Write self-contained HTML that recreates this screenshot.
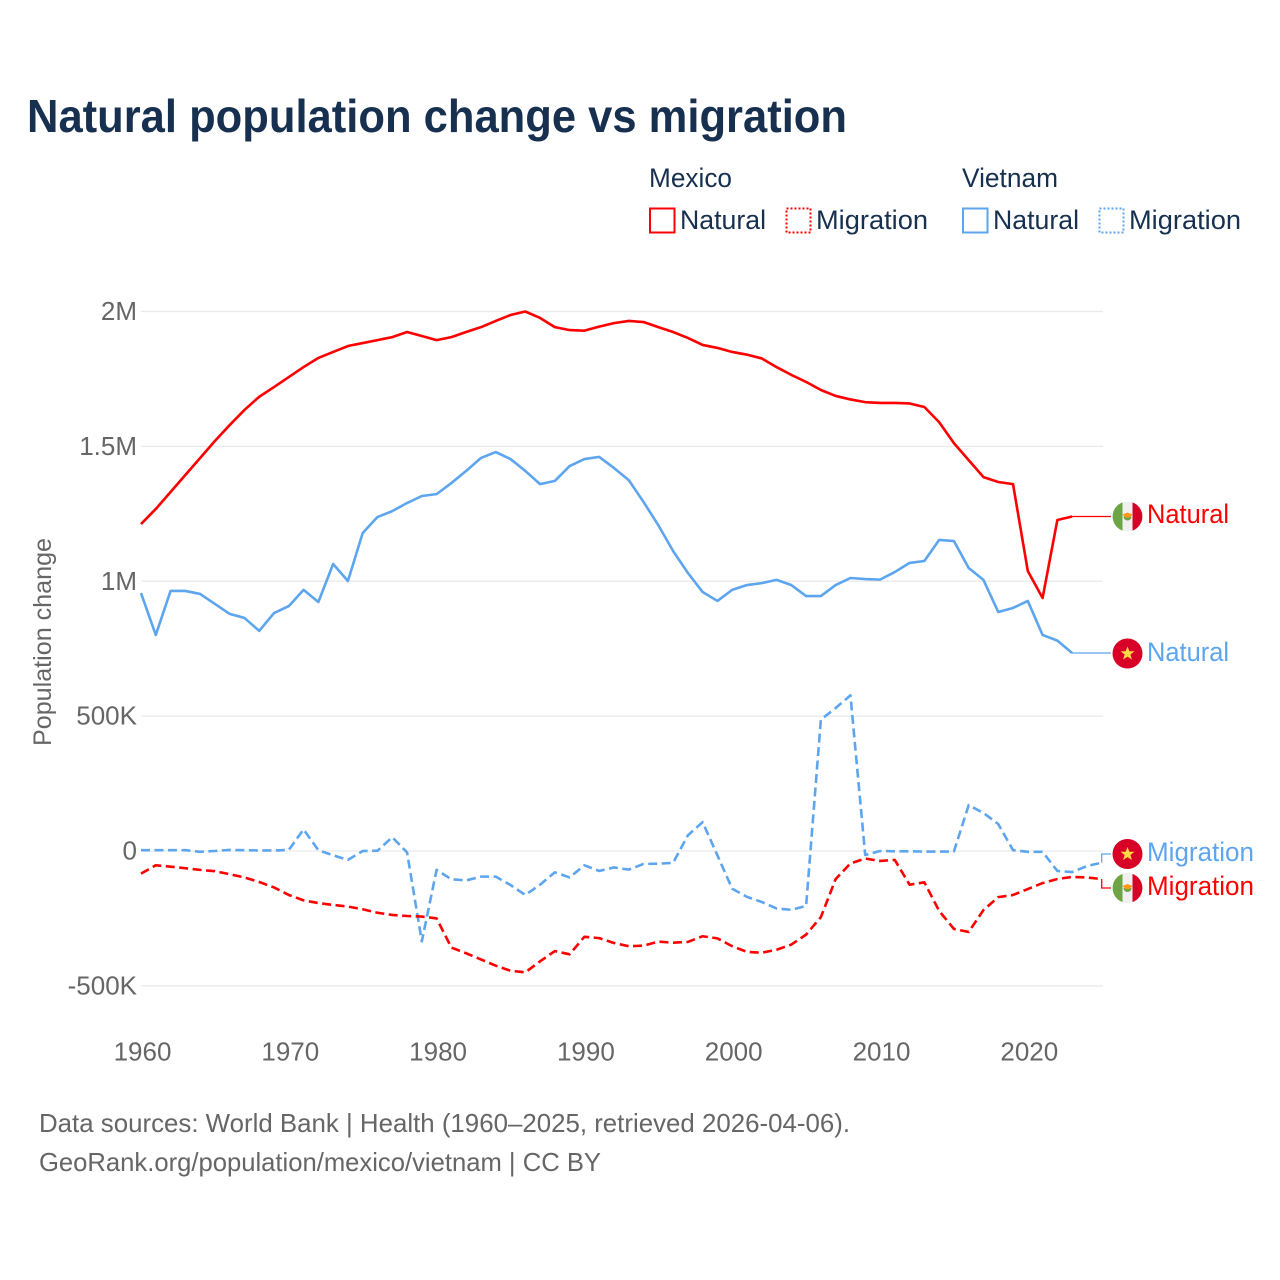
<!DOCTYPE html>
<html lang="en">
<head>
<meta charset="utf-8">
<title>Natural population change vs migration</title>
<style>
html,body{margin:0;padding:0;background:#fff;}
svg{display:block;font-family:"Liberation Sans",sans-serif;}
.dark{fill:#18304f;font-size:27px;}
.tick{fill:#666;font-size:26px;}
.foot{fill:#666;font-size:26px;}
</style>
</head>
<body>
<svg id="chart" width="1280" height="1280" viewBox="0 0 1280 1280" xmlns="http://www.w3.org/2000/svg">
  <rect width="1280" height="1280" fill="#fff"/>
  <text x="27" y="132" font-size="46" font-weight="700" fill="#18304f" textLength="820" lengthAdjust="spacingAndGlyphs">Natural population change vs migration</text>

  <g>
    <text class="dark" x="649" y="187" textLength="83" lengthAdjust="spacingAndGlyphs">Mexico</text>
    <text class="dark" x="962" y="187" textLength="96" lengthAdjust="spacingAndGlyphs">Vietnam</text>
    <rect x="650" y="208.5" width="24.5" height="24" fill="none" stroke="#ff0000" stroke-width="2"/>
    <text class="dark" x="680" y="229" textLength="86" lengthAdjust="spacingAndGlyphs">Natural</text>
    <rect x="786.5" y="208.5" width="24" height="24" fill="none" stroke="#ff0000" stroke-width="2" stroke-dasharray="2 2"/>
    <text class="dark" x="816" y="229" textLength="112" lengthAdjust="spacingAndGlyphs">Migration</text>
    <rect x="963" y="208.5" width="24.5" height="24" fill="none" stroke="#5da5ee" stroke-width="2"/>
    <text class="dark" x="993" y="229" textLength="86" lengthAdjust="spacingAndGlyphs">Natural</text>
    <rect x="1099.5" y="208.5" width="24" height="24" fill="none" stroke="#5da5ee" stroke-width="2" stroke-dasharray="2 2"/>
    <text class="dark" x="1129" y="229" textLength="112" lengthAdjust="spacingAndGlyphs">Migration</text>
  </g>

  <text transform="translate(51,642) rotate(-90)" text-anchor="middle" font-size="25" fill="#666" textLength="208" lengthAdjust="spacingAndGlyphs">Population change</text>

  <g id="grid"></g>
  <g id="yticks"></g>
  <g id="xticks"></g>
  <g id="series"></g>

  <g transform="translate(1127.5,516.5)">
    <circle r="15" fill="#f0f0f0"/>
    <path d="M-5,-14.1A15,15 0 0 0 -5,14.1Z" fill="#6da544"/>
    <path d="M5,-14.1A15,15 0 0 1 5,14.1Z" fill="#d80027"/>
    <path d="M-4,0A4,4 0 0 0 4,0Z" fill="#6da544"/>
    <path d="M-5,-2L0,-4L5,-2L2,1L-2,1Z" fill="#ff9811"/>
  </g>
  <g transform="translate(1127.5,653.5)">
    <circle r="15" fill="#d80027"/>
    <path d="M0,-7L1.9,-2.2L7,-2.2L2.9,1L4.4,6L0,3.1L-4.4,6L-2.9,1L-7,-2.2L-1.9,-2.2Z" fill="#ffda44"/>
  </g>
  <g transform="translate(1127.5,854)">
    <circle r="15" fill="#d80027"/>
    <path d="M0,-7L1.9,-2.2L7,-2.2L2.9,1L4.4,6L0,3.1L-4.4,6L-2.9,1L-7,-2.2L-1.9,-2.2Z" fill="#ffda44"/>
  </g>
  <g transform="translate(1127.5,888)">
    <circle r="15" fill="#f0f0f0"/>
    <path d="M-5,-14.1A15,15 0 0 0 -5,14.1Z" fill="#6da544"/>
    <path d="M5,-14.1A15,15 0 0 1 5,14.1Z" fill="#d80027"/>
    <path d="M-4,0A4,4 0 0 0 4,0Z" fill="#6da544"/>
    <path d="M-5,-2L0,-4L5,-2L2,1L-2,1Z" fill="#ff9811"/>
  </g>

  <text x="1147" y="523" font-size="27" fill="#ff0000" textLength="82" lengthAdjust="spacingAndGlyphs">Natural</text>
  <text x="1147" y="661" font-size="27" fill="#5da5ee" textLength="82" lengthAdjust="spacingAndGlyphs">Natural</text>
  <text x="1147" y="861" font-size="27" fill="#5da5ee" textLength="107" lengthAdjust="spacingAndGlyphs">Migration</text>
  <text x="1147" y="895" font-size="27" fill="#ff0000" textLength="107" lengthAdjust="spacingAndGlyphs">Migration</text>

  <text class="foot" x="39" y="1132" textLength="811" lengthAdjust="spacingAndGlyphs">Data sources: World Bank | Health (1960–2025, retrieved 2026-04-06).</text>
  <text class="foot" x="39" y="1171" textLength="562" lengthAdjust="spacingAndGlyphs">GeoRank.org/population/mexico/vietnam | CC BY</text>
</svg>
<script>
const startYear = 1960;
const yTickValues = [2000, 1500, 1000, 500, 0, -500];
const yTickLabels = ["2M", "1.5M", "1M", "500K", "0", "-500K"];
const xTickYears = [1960, 1970, 1980, 1990, 2000, 2010, 2020];

const mexicoNatural = [1212,1268,1331,1394,1457,1520,1579,1635,1684,1720,1757,1794,1828,1850,1872,1883,1894,1905,1924,1909,1894,1905,1924,1942,1965,1987,2000,1976,1942,1931,1929,1944,1957,1965,1961,1942,1924,1902,1876,1865,1850,1840,1826,1794,1765,1739,1709,1687,1674,1664,1661,1661,1659,1646,1590,1512,1449,1386,1368,1360,1038,938,1227,1240];
const vietnamNatural = [956,801,964,964,953,916,879,864,816,882,908,968,923,1064,1001,1179,1238,1260,1290,1316,1323,1364,1409,1457,1479,1453,1409,1360,1372,1427,1453,1461,1420,1375,1294,1208,1112,1031,960,927,968,986,993,1005,986,945,945,986,1012,1008,1006,1034,1068,1075,1153,1149,1049,1005,886,901,927,801,780,734];
const vietnamMigration = [3,3,3,3,-3,0,4,3,2,2,4,80,3,-16,-33,0,1,51,-5,-335,-70,-105,-109,-95,-95,-126,-163,-125,-79,-98,-53,-74,-61,-69,-48,-47,-44,58,107,-16,-140,-170,-189,-213,-218,-204,487,530,577,-15,0,-1,-1,-2,-2,-2,170,141,100,3,-3,-3,-74,-78,-56,-43];
const mexicoMigration = [-84,-53,-58,-64,-70,-75,-86,-98,-115,-135,-163,-183,-193,-200,-206,-216,-229,-237,-241,-243,-250,-358,-379,-402,-425,-444,-450,-409,-371,-383,-318,-323,-341,-353,-351,-336,-340,-337,-316,-324,-353,-374,-377,-366,-347,-310,-245,-104,-46,-28,-37,-33,-125,-116,-222,-289,-300,-219,-171,-163,-141,-119,-104,-96,-98,-104];

const NS = "http://www.w3.org/2000/svg";
function xScale(year) { return 141 + (year - 1960) * 14.78; }
function yScale(v) { return 851 - v * 0.26975; }
function make(tag, attrs, parent, text) {
  const el = document.createElementNS(NS, tag);
  for (const k in attrs) el.setAttribute(k, attrs[k]);
  if (text !== undefined) el.textContent = text;
  parent.appendChild(el);
  return el;
}

const grid = document.getElementById("grid");
const yticks = document.getElementById("yticks");
const xticks = document.getElementById("xticks");
const seriesGroup = document.getElementById("series");

yTickValues.forEach(function (v, i) {
  const line = make("line", {x1: 141, x2: 1103, y1: yScale(v), y2: yScale(v), stroke: "#e9e9e9", "stroke-width": 1.3}, grid);
  
  
  const label = make("text", {x: 137, y: yScale(v) + 8.5, "text-anchor": "end", class: "tick"}, yticks, yTickLabels[i]);
  
  
});

xTickYears.forEach(function (year) {
  const label = make("text", {x: xScale(year) + 1.5, y: 1060.5, "text-anchor": "middle", class: "tick"}, xticks, String(year));
  
  
});

function drawSeries(values, color, dash, seriesName, connectorY) {
  const pts = values.map(function (v, i) { return xScale(startYear + i).toFixed(2) + "," + yScale(v).toFixed(2); });
  const attrs = {d: "M" + pts.join("L"), fill: "none", stroke: color, "stroke-width": 2.6, "stroke-linejoin": "round"};
  if (dash) attrs["stroke-dasharray"] = "9 4.5";
  const line = make("path", attrs, seriesGroup);
  
  
  const lastX = xScale(startYear + values.length - 1);
  const lastY = yScale(values[values.length - 1]);
  const endY = connectorY === null ? lastY : connectorY;
  const c = "M" + lastX + "," + lastY + "L" + lastX + "," + endY + "L1111," + endY;
  const conn = make("path", {d: c, fill: "none", stroke: color, "stroke-width": 1.3}, seriesGroup);
  
  
}

drawSeries(vietnamMigration, "#5da5ee", true, "line-vietnam-migration", 854);
drawSeries(mexicoMigration, "#ff0000", true, "line-mexico-migration", 888);
drawSeries(vietnamNatural, "#5da5ee", false, "line-vietnam-natural", null);
drawSeries(mexicoNatural, "#ff0000", false, "line-mexico-natural", null);
</script>
</body>
</html>
